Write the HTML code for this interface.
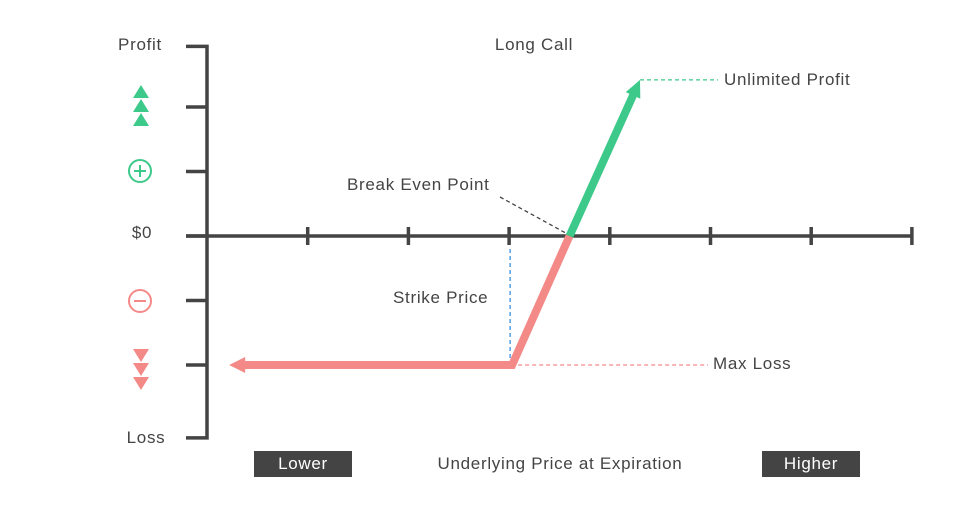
<!DOCTYPE html>
<html><head><meta charset="utf-8"><style>
body{margin:0;background:#fff}
svg{display:block;font-family:"Liberation Sans",sans-serif}
</style></head><body>
<svg width="974" height="520" viewBox="0 0 974 520">
<g id="axes"></g>
<g id="marks"></g>
<g fill="#444" font-size="17" letter-spacing="0.7">
<text x="140" y="50" text-anchor="middle">Profit</text>
<text x="146" y="443" text-anchor="middle">Loss</text>
<text x="142" y="238" text-anchor="middle">$0</text>
<text x="534" y="50" text-anchor="middle">Long Call</text>
<text x="724" y="85">Unlimited Profit</text>
<text x="347" y="190">Break Even Point</text>
<text x="393" y="303">Strike Price</text>
<text x="713" y="369">Max Loss</text>
<text x="560" y="469" text-anchor="middle">Underlying Price at Expiration</text>
<rect x="254" y="451" width="98" height="26" fill="#444"/>
<text x="303" y="469" text-anchor="middle" fill="#fff">Lower</text>
<rect x="762" y="451" width="98" height="26" fill="#444"/>
<text x="811" y="469" text-anchor="middle" fill="#fff">Higher</text>
</g>
<g fill="#3cc98a">
<polygon points="141,85 149,98 133,98"/><polygon points="141,99 149,112 133,112"/><polygon points="141,113 149,126 133,126"/>
<circle cx="140" cy="171" r="11" fill="none" stroke="#3cc98a" stroke-width="2"/>
<path d="M134 171h12M140 165v12" stroke="#3cc98a" stroke-width="2"/>
</g>
<g fill="#f48a88">
<polygon points="133,349 149,349 141,362"/><polygon points="133,363 149,363 141,376"/><polygon points="133,377 149,377 141,390"/>
<circle cx="140" cy="301" r="11" fill="none" stroke="#f48a88" stroke-width="2"/>
<path d="M134 301h12" stroke="#f48a88" stroke-width="2"/>
</g>
</svg>
<script>
const xTicks=[1,2,3,4,5,6,7];
const yTicks=[2.94,2,1,0,-1,-2,-3.13];
const lossPrices=[0.22,3.03,3.6];
const lossValues=[-2,-2,0];
const profitPrices=[3.6,4.3];
const profitValues=[0,2.42];
const sx=v=>207+v*100.7;
const sy=v=>236-v*64.5;
const NS="http://www.w3.org/2000/svg";
function mk(tag,attrs,parent){const e=document.createElementNS(NS,tag);for(const k in attrs)e.setAttribute(k,attrs[k]);parent.appendChild(e);return e;}
const ax=document.getElementById('axes'),mg=document.getElementById('marks');
const st={stroke:'#444','stroke-width':3.5,fill:'none'};
let e=mk('path',Object.assign({d:`M186 ${sy(yTicks[0])}H207V${sy(yTicks[yTicks.length-1])}H186`},st),ax);


e=mk('path',Object.assign({d:`M186 ${sy(0)}H${sx(7)}`},st),ax);


yTicks.slice(1,-1).forEach(v=>{const t=mk('path',Object.assign({d:`M186 ${sy(v)}H207`},st),ax);

});
xTicks.forEach(v=>{const t=mk('path',Object.assign({d:`M${sx(v)} ${sy(0)-9}V${sy(0)+9}`},st),ax);

});
const sxK=sx(lossPrices[1]),syL=sy(lossValues[1]);
e=mk('path',{d:`M${sxK-2} ${sy(0)+13}V${syL-5}`,stroke:'#3a8fe0','stroke-width':1.3,'stroke-dasharray':'4 3'},mg);


e=mk('path',{d:`M${sxK+6} ${syL}H708`,stroke:'#f48a88','stroke-width':1.3,'stroke-dasharray':'4 3'},mg);


const px=sx(profitPrices[1]),py=sy(profitValues[1]);
e=mk('path',{d:`M${px} ${py}H718`,stroke:'#3cc98a','stroke-width':1.3,'stroke-dasharray':'4 3'},mg);


const bx=sx(profitPrices[0]),by=sy(0);
e=mk('path',{d:`M500 197L${bx-2} ${by-2}`,stroke:'#444','stroke-width':1.3,'stroke-dasharray':'4 3'},mg);


e=mk('polyline',{points:lossPrices.map((p,i)=>`${i==0?sx(p)+12:sx(p)},${sy(lossValues[i])}`).join(' '),stroke:'#f48a88','stroke-width':8,fill:'none','stroke-linejoin':'miter'},mg);


const ax0=sx(lossPrices[0]),ay0=sy(lossValues[0]);
e=mk('polygon',{points:`${ax0},${ay0} ${ax0+16},${ay0-8} ${ax0+16},${ay0+8}`,fill:'#f48a88'},mg);


const dx=px-bx,dy=py-by,len=Math.hypot(dx,dy),ux=dx/len,uy=dy/len;
e=mk('line',{x1:bx,y1:by,x2:px-ux*12,y2:py-uy*12,stroke:'#3cc98a','stroke-width':8},mg);


const bx2=px-ux*17,by2=py-uy*17;
e=mk('polygon',{points:`${px},${py} ${bx2-uy*8},${by2+ux*8} ${bx2+uy*8},${by2-ux*8}`,fill:'#3cc98a'},mg);


</script>
</body></html>
